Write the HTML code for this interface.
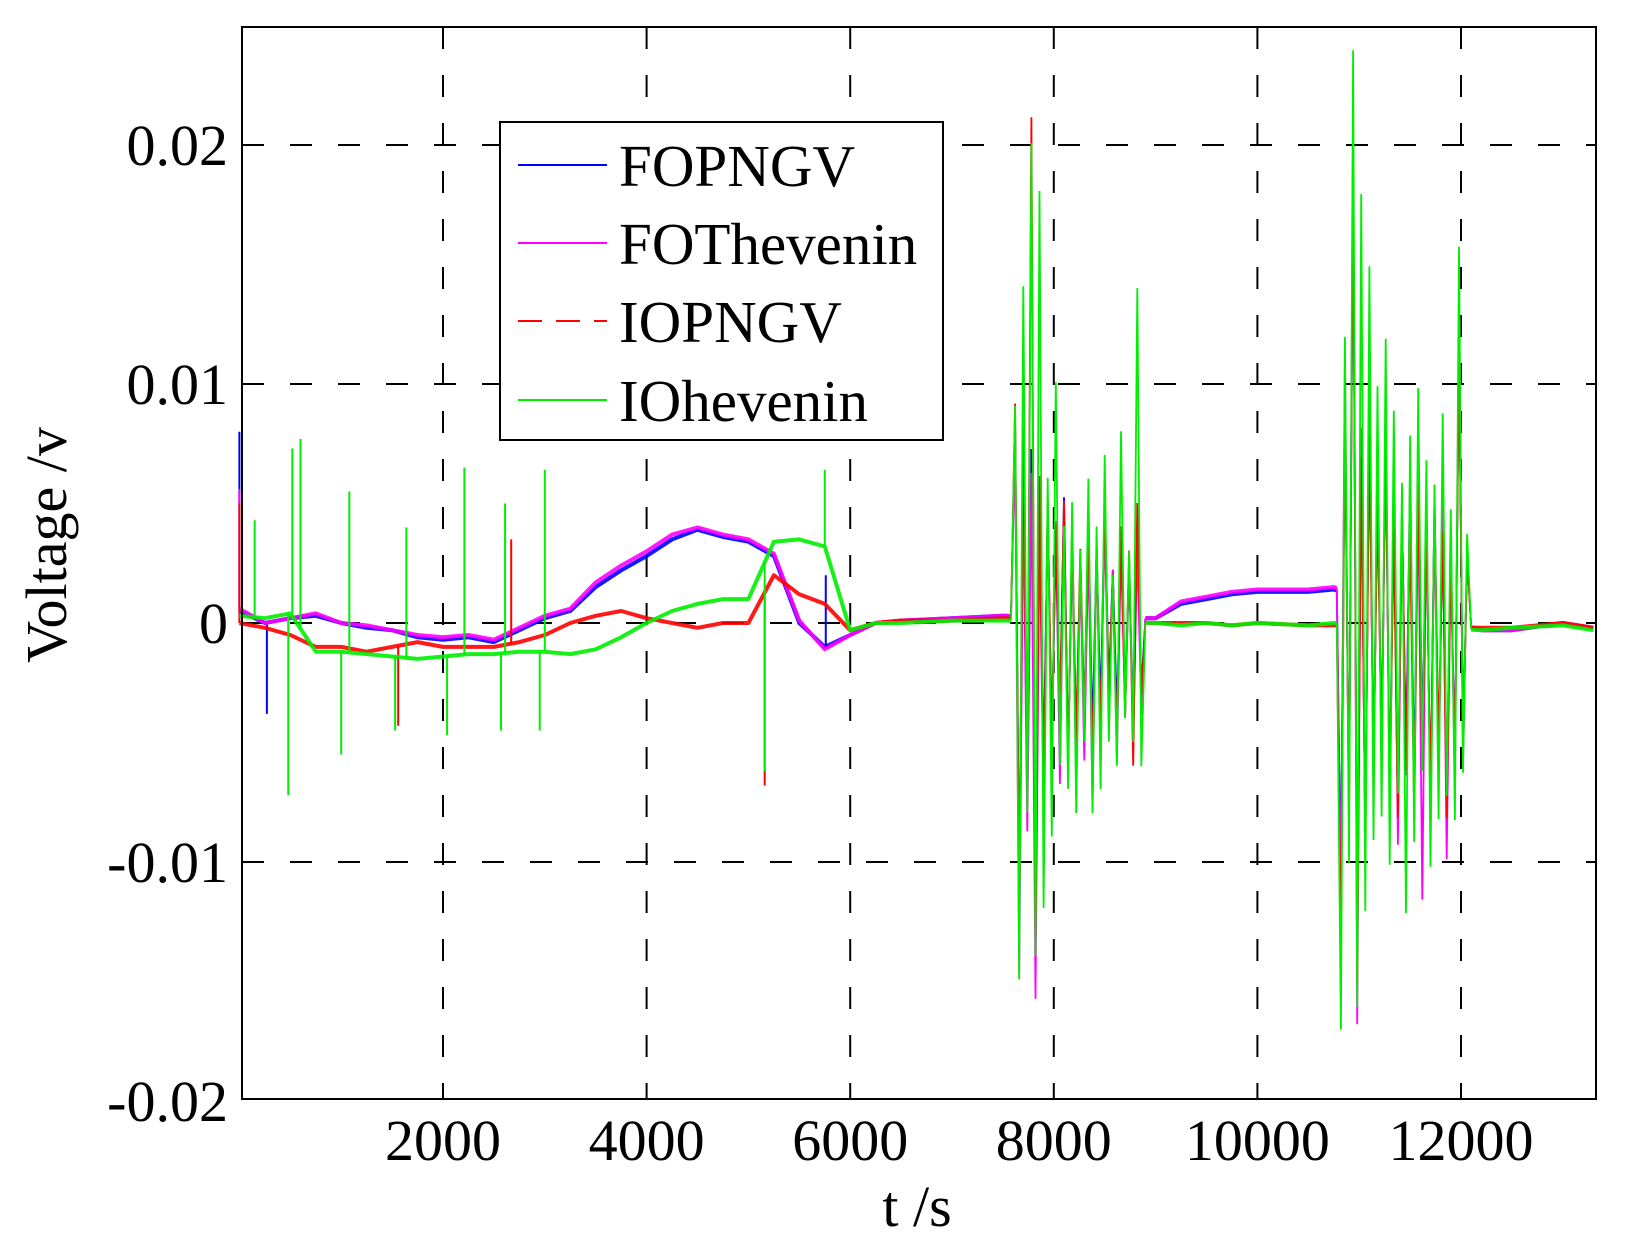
<!DOCTYPE html>
<html><head><meta charset="utf-8">
<style>
html,body{margin:0;padding:0;background:#fff;}
svg{display:block;}
text{font-family:"Liberation Serif",serif;fill:#000;}
</style></head>
<body>
<svg id="chart" width="1626" height="1244" viewBox="0 0 1626 1244" xmlns="http://www.w3.org/2000/svg">
<rect x="0" y="0" width="1626" height="1244" fill="#fff"/>
<g id="grid"></g>
<g id="series"></g>
<g id="axes"></g>
<text transform="translate(66,545) rotate(-90)" text-anchor="middle" font-size="58">Voltage /v</text>
<text x="917" y="1226" text-anchor="middle" font-size="58">t /s</text>
<g>
<rect x="500" y="122" width="443" height="318" fill="#fff" stroke="#000" stroke-width="2"/>
<line x1="518" y1="165" x2="607" y2="165" stroke="#0000ff" stroke-width="2"/>
<text x="619" y="186" font-size="59">FOPNGV</text>
<line x1="518" y1="243" x2="607" y2="243" stroke="#ff00ff" stroke-width="2"/>
<text x="619" y="264" font-size="59">FOThevenin</text>
<line x1="518" y1="321" x2="607" y2="321" stroke="#ff0000" stroke-width="2" stroke-dasharray="24,14"/>
<text x="619" y="342" font-size="59">IOPNGV</text>
<line x1="518" y1="400" x2="607" y2="400" stroke="#00ee00" stroke-width="2"/>
<text x="619" y="421" font-size="59">IOhevenin</text>
</g>
</svg>
<script>
// ---- data (values in mV) ----
const xTicks = [2000, 4000, 6000, 8000, 10000, 12000];
const yTicks = [-0.02, -0.01, 0, 0.01, 0.02];
const yTickLabels = ["-0.02", "-0.01", "0", "0.01", "0.02"];
const seriesNames = ["FOPNGV", "FOThevenin", "IOPNGV", "IOhevenin"];
const baseT = [0,250,500,750,1000,1250,1500,1750,2000,2250,2500,2750,3000,3250,3500,3750,4000,4250,4500,4750,5000,5250,5500,5750,6000,6250,6500,7000,7500,9000,9250,9500,9750,10000,10500,10750,12200,12500,13000,13300];
const baseBlue = [0.5,0,0.2,0.3,0,-0.2,-0.3,-0.6,-0.7,-0.6,-0.8,-0.3,0.2,0.5,1.5,2.2,2.8,3.5,3.9,3.6,3.4,2.8,0,-1.0,-0.5,0,0.1,0.2,0.3,0.2,0.8,1.0,1.2,1.3,1.3,1.4,-0.3,-0.3,0,-0.2];
const baseMagenta = [0.6,0,0.2,0.4,0,-0.1,-0.3,-0.5,-0.6,-0.5,-0.7,-0.2,0.3,0.6,1.7,2.4,3.0,3.7,4.0,3.7,3.5,2.9,0.1,-1.1,-0.5,0,0.1,0.2,0.3,0.2,0.9,1.1,1.3,1.4,1.4,1.5,-0.3,-0.3,0,-0.2];
const baseRed = [0,-0.2,-0.5,-1.0,-1.0,-1.2,-1.0,-0.8,-1.0,-1.0,-1.0,-0.8,-0.5,0,0.3,0.5,0.2,0,-0.2,0,0,2.0,1.2,0.8,-0.3,0,0.1,0.1,0.2,0,0,0,-0.1,0,-0.1,-0.1,-0.2,-0.2,0,-0.2];
const baseGreen = [0.3,0.2,0.4,-1.2,-1.2,-1.3,-1.4,-1.5,-1.4,-1.3,-1.3,-1.2,-1.2,-1.3,-1.1,-0.6,0,0.5,0.8,1.0,1.0,3.4,3.5,3.2,-0.3,0,0,0.1,0.1,0,-0.1,0,-0.1,0,-0.1,0,-0.3,-0.2,-0.1,-0.3];
const burst1T0 = 7580, burst2T0 = 10780, burstStep = 40;
const burst1Blue = [0,8,-11,6,-8,7,-13,5,-6,4,-5,3,-4,5,-6,3,-5,2,-4,4,-5,3,-4,5,-3,2,-4,3,-3,2,-4,4,-3,0];
const burst1Magenta = [0,7,-15,5,-9,6,-16,4,-8,5,-6,4,-7,4,-6,3,-7,2,-6,3,-8,3,-5,4,-4,2,-6,3,-4,2,-5,3,-4,0];
const burst1Red = [0,9,-12,8,-7,21,-14,6,-8,5,-5,4,-4,5,-6,4,-5,3,-4,4,-6,3,-5,5,-3,2,-5,4,-4,3,-6,5,-3,0];
const burst1Green = [0,9,-15,14,-8,20,-14,18,-12,6,-9,10,-6,4,-7,5,-8,3,-5,6,-8,4,-7,7,-5,2,-6,8,-4,3,-5,14,-6,0];
const burst2Blue = [0,-12,8,-9,18,-14,6,-10,8,-7,5,-6,7,-8,5,-9,4,-6,5,-7,6,-5,4,-8,5,-6,4,-7,3,-6,12,-5,3,0];
const burst2Magenta = [0,-13,10,-10,20,-18,7,-11,9,-8,6,-7,8,-9,5,-10,4,-7,6,-8,5,-12,5,-9,4,-7,5,-10,3,-7,13,-6,3,0];
const burst2Red = [0,-14,9,-8,20,-15,7,-9,8,-6,5,-5,8,-7,4,-8,5,-6,4,-8,6,-6,4,-7,5,-5,4,-8,3,-6,12,-5,3,0];
const burst2Green = [0,-17,12,-10,24,-16,18,-12,15,-9,10,-8,12,-10,9,-7,6,-12,8,-9,10,-6,7,-10,6,-8,9,-7,5,-8,16,-6,4,0];
const spikesBlueT = [0,270,5760];
const spikesBlueV = [8,-3.8,2];
const spikesMagentaT = [0];
const spikesMagentaV = [5.6];
const spikesRedT = [0,1560,2670,5160];
const spikesRedV = [5,-4.3,3.5,-6.8];
const spikesGreenT = [150,480,520,600,1000,1080,1530,1640,2040,2210,2570,2610,2950,3000,5160,5750];
const spikesGreenV = [4.3,-7.2,7.3,7.7,-5.5,5.5,-4.5,4,-4.7,6.5,-4.5,5,-4.5,6.4,-6.2,6.4];

// ---- axes ----
const X0 = 242, X1 = 1596, Y0 = 27, Y1 = 1099;
const xs = t => 239.4 + t * (1018 / 10000);
const ys = v => 623 - v * 23900; // v in volts
const NS = "http://www.w3.org/2000/svg";
function mk(tag, parent, attrs) {
  const e = document.createElementNS(NS, tag);
  for (const k in attrs) e.setAttribute(k, attrs[k]);
  parent.appendChild(e);
  return e;
}
const grid = document.getElementById("grid");
const axes = document.getElementById("axes");
const ser = document.getElementById("series");

xTicks.forEach(t => {
  const l = mk("line", grid, {x1: xs(t), x2: xs(t), y1: Y0, y2: Y1, stroke: "#000", "stroke-width": 2, "stroke-dasharray": "22,26"});
  
  
  const tx = mk("text", axes, {x: xs(t), y: 1160, "text-anchor": "middle", "font-size": "58"});
  tx.textContent = String(t);
  
  
});
yTicks.forEach((v, i) => {
  if (v !== -0.02) {
    const l = mk("line", grid, {x1: X0, x2: X1, y1: ys(v), y2: ys(v), stroke: "#000", "stroke-width": 2, "stroke-dasharray": "22,26"});
    
    
  }
  const tx = mk("text", axes, {x: 228, y: ys(v) + 20, "text-anchor": "end", "font-size": "58"});
  tx.textContent = yTickLabels[i];
  
  
});
const frame = mk("rect", axes, {x: X0, y: Y0, width: X1 - X0, height: Y1 - Y0, fill: "none", stroke: "#000", "stroke-width": 2});



function interp(T, V, t) {
  if (t <= T[0]) return V[0];
  for (let i = 1; i < T.length; i++) if (t <= T[i]) return V[i-1] + (V[i]-V[i-1]) * (t - T[i-1]) / (T[i]-T[i-1]);
  return V[V.length-1];
}
function toD(pts) {
  return pts.map((p, i) => (i ? "L" : "M") + xs(p[0]).toFixed(1) + "," + ys(p[1] / 1000).toFixed(1)).join("");
}
function drawSeries(name, color, base, b1, b2, sT, sV) {
  const e1 = burst1T0 + burstStep * (b1.length - 1), e2 = burst2T0 + burstStep * (b2.length - 1);
  const calm = [[], [], []];
  baseT.forEach((t, i) => {
    if (t <= burst1T0) calm[0].push([t, base[i]]);
    else if (t >= e1 && t <= burst2T0) calm[1].push([t, base[i]]);
    else if (t >= e2) calm[2].push([t, base[i]]);
  });
  calm[0].push([burst1T0, interp(baseT, base, burst1T0)]);
  calm[1].unshift([e1, interp(baseT, base, e1)]);
  calm[1].push([burst2T0, interp(baseT, base, burst2T0)]);
  calm[2].unshift([e2, interp(baseT, base, e2)]);
  const g = mk("g", ser, {});
  
  
  const band = mk("path", g, {d: calm.map(toD).join(""), fill: "none", stroke: color, "stroke-width": 4, "stroke-linejoin": "round", opacity: 0.9});
  
  
  [[burst1T0, b1], [burst2T0, b2]].forEach(([t0, arr]) => {
    const pts = arr.map((v, i) => [t0 + i * burstStep, v + interp(baseT, base, t0 + i * burstStep)]);
    const p = mk("path", g, {d: toD(pts), fill: "none", stroke: color, "stroke-width": 1.8});
    
    
  });
  sT.forEach((t, i) => {
    const b = interp(baseT, base, t);
    const s = mk("line", g, {x1: xs(t), x2: xs(t), y1: ys(b / 1000), y2: ys(sV[i] / 1000), stroke: color, "stroke-width": 2});
    
    
  });
}
drawSeries("fopngv", "#0000ff", baseBlue, burst1Blue, burst2Blue, spikesBlueT, spikesBlueV);
drawSeries("fothevenin", "#ff00ff", baseMagenta, burst1Magenta, burst2Magenta, spikesMagentaT, spikesMagentaV);
drawSeries("iopngv", "#ff0000", baseRed, burst1Red, burst2Red, spikesRedT, spikesRedV);
drawSeries("iohevenin", "#00ee00", baseGreen, burst1Green, burst2Green, spikesGreenT, spikesGreenV);
</script>
</body></html>
